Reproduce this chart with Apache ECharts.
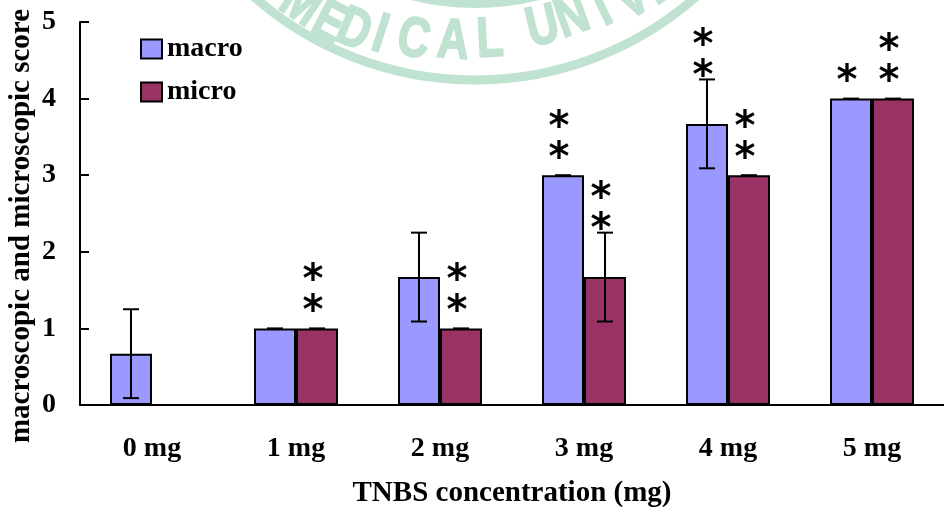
<!DOCTYPE html>
<html>
<head>
<meta charset="utf-8">
<script src="https://cdn.jsdelivr.net/npm/echarts@6/dist/echarts.min.js"></script>
<style>
  html, body { margin: 0; padding: 0; background: #fff; }
  #chart { width: 944px; height: 515px; }
</style>
</head>
<body>
<div id="chart"></div>
<script>
// Scores per TNBS dose (mean, SD) and significance marks
const categories = ['0 mg', '1 mg', '2 mg', '3 mg', '4 mg', '5 mg'];
const macroScore = [0.67, 1, 1.67, 3, 3.67, 4];
const microScore = [0, 1, 1, 1.67, 3, 4];
const macroSD = [0.58, 0, 0.58, 0, 0.58, 0];
const microSD = [0, 0, 0, 0.58, 0, 0];
const macroStars = [0, 0, 0, 2, 2, 1];
const microStars = [0, 2, 2, 2, 2, 2];
const yTicks = [0, 1, 2, 3, 4, 5];

const SERIF = '"Liberation Serif", "Times New Roman", serif';
const BAR_W = 42;
const CAP_W = 16;
const STAR_FONT = 40;

const chart = echarts.init(document.getElementById('chart'), null, { renderer: 'canvas' });

function errorBars(name, values, sd, shift) {
  return {
    type: 'custom',
    name: name,
    silent: true,
    z: 5,
    data: values.map((v, i) => [i, v, sd[i]]),
    encode: { x: 0, y: 1 },
    renderItem(params, api) {
      const i = api.value(0), v = api.value(1), e = api.value(2);
      const x = api.coord([i, 0])[0] + shift;
      const yHi = api.coord([i, v + e])[1];
      const yLo = api.coord([i, v - e])[1];
      const style = { stroke: '#000', lineWidth: 2, fill: null };
      const h = CAP_W / 2;
      const children = [
        { type: 'line', shape: { x1: x - h, y1: yHi, x2: x + h, y2: yHi }, style }
      ];
      if (e > 0) {
        children.push({ type: 'line', shape: { x1: x, y1: yHi, x2: x, y2: yLo }, style });
        children.push({ type: 'line', shape: { x1: x - h, y1: yLo, x2: x + h, y2: yLo }, style });
      }
      return { type: 'group', children };
    }
  };
}

function starMarks(name, values, sd, stars, shift) {
  return {
    type: 'custom',
    name: name,
    silent: true,
    z: 6,
    data: values.map((v, i) => [i, v, sd[i], stars[i]]),
    encode: { x: 0, y: 1 },
    renderItem(params, api) {
      const i = api.value(0), v = api.value(1), e = api.value(2), n = api.value(3);
      if (!n) return null;
      const x = api.coord([i, 0])[0] + shift - 4;
      const base = api.coord([i, v + e])[1] - (e > 0 ? 12 : 26);
      const children = [];
      for (let k = 0; k < n; k++) {
        children.push({
          type: 'text',
          style: {
            text: '*',
            x: x,
            y: base - k * 31 + STAR_FONT * 0.25,
            align: 'center',
            verticalAlign: 'middle',
            font: 'bold ' + STAR_FONT + 'px "DejaVu Sans", sans-serif',
            fill: '#000'
          }
        });
      }
      return { type: 'group', children };
    }
  };
}

// Faint university stamp behind the plot
const stamp = { cx: 475, cy: -255, rOuter: 335, rInner: 259 };
const stampLetters = ['M', 'E', 'D', 'I', 'C', 'A', 'L', 'U', 'N', 'I', 'V', 'E', 'R'];
const stampAngles = [-33.9, -27.7, -23.0, -18.1, -11.8, -4.2, 2.9, 13.5, 19.7, 25.8, 31.8, 37.5, 43];
const stampRadii = [313, 315, 311, 306, 302, 298, 296, 291, 290, 294, 300, 302, 302];
const STAMP_COLOR = '#c0e2d1';
const stampGraphics = [
  { type: 'circle', shape: { cx: stamp.cx, cy: stamp.cy, r: stamp.rOuter },
    style: { fill: null, stroke: STAMP_COLOR, lineWidth: 9 }, silent: true, z: -10 },
  { type: 'circle', shape: { cx: stamp.cx, cy: stamp.cy, r: stamp.rInner },
    style: { fill: null, stroke: STAMP_COLOR, lineWidth: 8 }, silent: true, z: -10 }
].concat(stampLetters.map((ch, k) => {
  const a = stampAngles[k] * Math.PI / 180;
  const r = stampRadii[k];
  return {
    type: 'text', silent: true, z: -10,
    x: stamp.cx + r * Math.sin(a),
    y: stamp.cy + r * Math.cos(a),
    rotation: a,
    scaleX: 0.78,
    style: {
      text: ch, align: 'center', verticalAlign: 'middle',
      font: 'bold 56px "Liberation Sans", "DejaVu Sans", sans-serif',
      fill: STAMP_COLOR,
      stroke: STAMP_COLOR,
      lineWidth: 2
    }
  };
}));

const option = {
  backgroundColor: '#fff',
  animation: false,
  grid: { left: 80, top: 22, width: 870, height: 383, containLabel: false },
  legend: {
    data: ['macro', 'micro'],
    orient: 'vertical',
    left: 140,
    top: 35,
    padding: 0,
    itemWidth: 21,
    itemHeight: 19,
    itemGap: 15,
    icon: 'rect',
    textStyle: { fontFamily: SERIF, fontWeight: 'bold', fontSize: 28, color: '#000', lineHeight: 28 }
  },
  xAxis: {
    type: 'category',
    data: categories,
    boundaryGap: true,
    axisLine: { lineStyle: { color: '#000', width: 2 } },
    axisTick: { inside: true, length: 9, lineStyle: { color: '#000', width: 2 } },
    axisLabel: { margin: 30, fontFamily: SERIF, fontWeight: 'bold', fontSize: 28, color: '#000' },
    name: 'TNBS concentration (mg)',
    nameLocation: 'middle',
    nameGap: 74,
    nameTextStyle: { fontFamily: SERIF, fontWeight: 'bold', fontSize: 29, color: '#000' }
  },
  yAxis: {
    type: 'value',
    min: yTicks[0],
    max: yTicks[yTicks.length - 1],
    interval: 1,
    splitLine: { show: false },
    axisLine: { show: true, lineStyle: { color: '#000', width: 2 } },
    axisTick: { show: true, inside: true, length: 9, lineStyle: { color: '#000', width: 2 } },
    axisLabel: { margin: 24, fontFamily: SERIF, fontWeight: 'bold', fontSize: 28, color: '#000' }
  },
  graphic: stampGraphics.concat([
    {
      type: 'text', silent: true,
      x: 22, y: 226, rotation: Math.PI / 2,
      style: {
        text: 'macroscopic and microscopic score',
        align: 'center', verticalAlign: 'middle',
        font: 'bold 29px ' + SERIF, fill: '#000'
      }
    }
  ]),
  series: [
    {
      name: 'macro', type: 'bar', data: macroScore,
      barWidth: BAR_W, barGap: '0%',
      itemStyle: { color: '#9999ff', borderColor: '#000', borderWidth: 2 }
    },
    {
      name: 'micro', type: 'bar', data: microScore,
      barWidth: BAR_W, barGap: '0%',
      itemStyle: { color: '#993366', borderColor: '#000', borderWidth: 2 }
    },
    errorBars('macro SD', macroScore, macroSD, -BAR_W / 2),
    errorBars('micro SD', microScore, microSD, BAR_W / 2),
    starMarks('macro sig', macroScore, macroSD, macroStars, -BAR_W / 2),
    starMarks('micro sig', microScore, microSD, microStars, BAR_W / 2)
  ]
};

chart.setOption(option);
</script>
</body>
</html>
